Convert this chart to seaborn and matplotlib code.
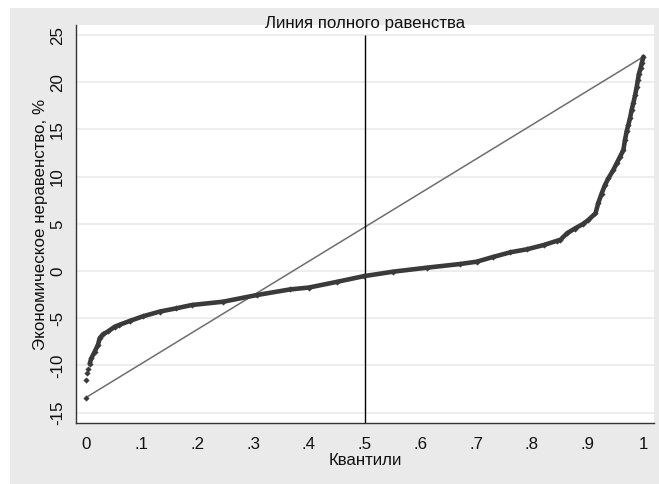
import matplotlib
matplotlib.use("Agg")
import matplotlib.pyplot as plt
import matplotlib.patches as mpatches
import seaborn as sns

# ---------------------------------------------------------------------------
# DATA
# ---------------------------------------------------------------------------
# isolated points in the lower tail
tail_q = [0.0, 0.0005, 0.002, 0.0036]
tail_v = [-13.4, -11.5, -10.8, -10.4]

# dense part of the quantile curve
band_q = [0.0066, 0.0095, 0.0155, 0.0215, 0.0246, 0.0305, 0.0395, 0.0515,
          0.060, 0.078, 0.102, 0.132, 0.162, 0.190, 0.246, 0.306, 0.366,
          0.400, 0.450, 0.498, 0.551, 0.611, 0.671, 0.701, 0.731, 0.761,
          0.791, 0.821, 0.845, 0.851, 0.863, 0.877, 0.892, 0.901, 0.914,
          0.919, 0.925, 0.931, 0.937, 0.946, 0.952, 0.958, 0.964, 0.967,
          0.970, 0.973, 0.976, 0.979, 0.982, 0.985, 0.988, 0.990, 0.992,
          0.995, 0.997, 1.0]
band_v = [-9.8, -9.25, -8.55, -7.8, -7.1, -6.7, -6.4, -5.9,
          -5.7, -5.3, -4.8, -4.3, -3.95, -3.6, -3.25, -2.55, -1.95,
          -1.75, -1.15, -0.55, -0.07, 0.35, 0.74, 0.99, 1.5, 1.98,
          2.3, 2.75, 3.2, 3.3, 4.0, 4.5, 5.0, 5.4, 6.1,
          7.2, 8.2, 9.1, 9.8, 10.7, 11.4, 12.1, 12.8, 13.9,
          14.8, 15.5, 16.2, 17.1, 17.8, 18.6, 19.5, 20.2, 20.9,
          21.5, 22.0, 22.7]

# equality line: from the minimum to the maximum
eq_q = [0.0, 1.0]
eq_v = [tail_v[0], band_v[-1]]

x_ticks = [0, 0.1, 0.2, 0.3, 0.4, 0.5, 0.6, 0.7, 0.8, 0.9, 1.0]
x_labels = ["0", ".1", ".2", ".3", ".4", ".5", ".6", ".7", ".8", ".9", "1"]
y_ticks = [-15, -10, -5, 0, 5, 10, 15, 20, 25]

# ---------------------------------------------------------------------------
# STYLE
# ---------------------------------------------------------------------------
sns.set_style("white")
plt.rcParams["font.family"] = ["Liberation Sans", "DejaVu Sans"]
plt.rcParams["axes.unicode_minus"] = False

DOT = "#3a3a3a"
TXT = "#111111"
FS = 12.2

fig = plt.figure(figsize=(6.59, 4.84), dpi=100, facecolor="white")
# grey outer frame (Stata-like graph region)
fig.patches.append(mpatches.Rectangle((10 / 659, 0), 1, 1 - 8 / 484,
                                      transform=fig.transFigure,
                                      facecolor="#eaeaea", edgecolor="none",
                                      zorder=-10))
ax = fig.add_axes([76 / 659, 1 - 423 / 484, 578 / 659, 398 / 484])
ax.set_facecolor("white")

for yv in y_ticks:
    ax.axhline(yv, color="#eaeaea", lw=1.2, zorder=0)

sns.lineplot(x=eq_q, y=eq_v, ax=ax, color="#6e6e6e", lw=1.1, zorder=2)
sns.lineplot(x=band_q, y=band_v, ax=ax, color=DOT, lw=3.3, sort=False,
             solid_capstyle="round", zorder=3)
sns.scatterplot(x=band_q + tail_q, y=band_v + tail_v, ax=ax, color=DOT,
                marker="D", s=10, linewidth=0, zorder=4)

ax.set_xlim(-0.018, 1.019)
ax.set_ylim(-16.1, 26.06)
ax.vlines(0.5, -16.1, 25, color="black", lw=1.0, zorder=2)
ax.text(0.5, 26.25, "Линия полного равенства", ha="center", va="center",
        fontsize=FS, color=TXT, clip_on=False, zorder=5)

ax.set_xticks(x_ticks)
ax.set_xticklabels(x_labels)
ax.set_yticks(y_ticks)
ax.set_yticklabels([str(t) for t in y_ticks], rotation=90, va="center")
ax.tick_params(axis="both", direction="out", length=5, width=1,
               color="#333333", labelsize=FS, labelcolor=TXT)
ax.tick_params(axis="x", pad=5)
ax.tick_params(axis="y", pad=3)

ax.set_xlabel("Квантили", fontsize=FS, color=TXT, labelpad=1)
ax.set_ylabel("Экономическое неравенство, %", fontsize=FS, color=TXT,
              labelpad=1)

for side in ["top", "right"]:
    ax.spines[side].set_visible(False)
for side in ["left", "bottom"]:
    ax.spines[side].set_color("#333333")
    ax.spines[side].set_linewidth(1.0)

fig.savefig("out.png", dpi=100)
plt.close(fig)
